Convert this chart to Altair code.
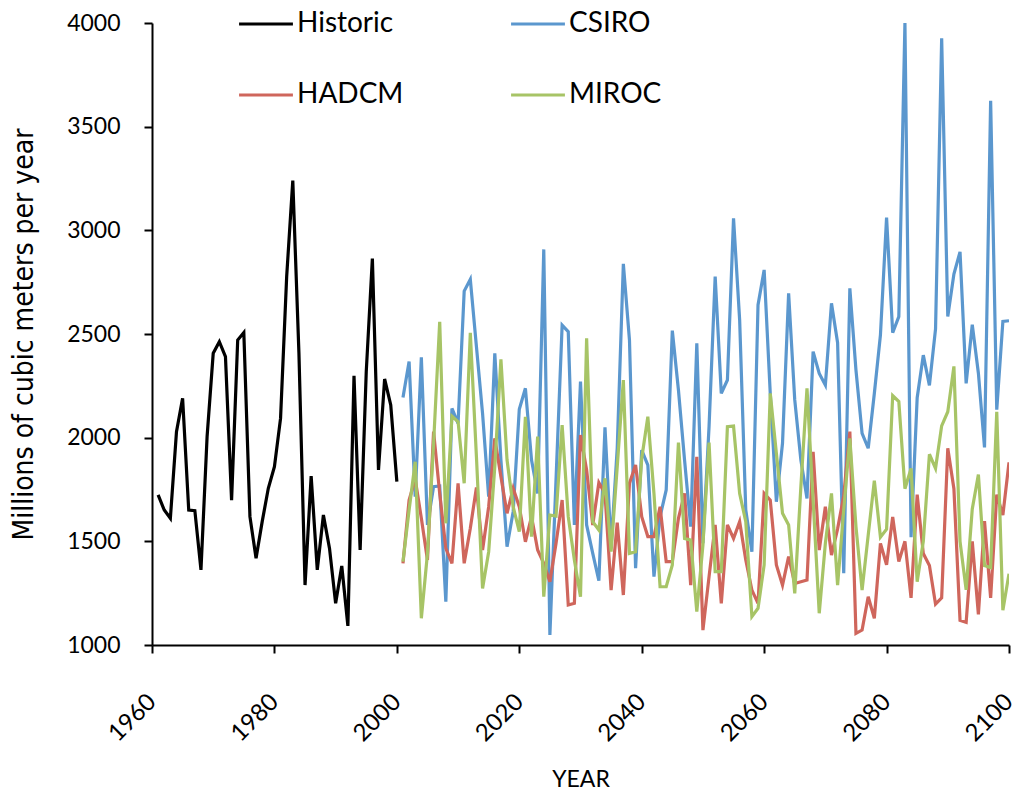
import altair as alt
import pandas as pd

# Annual volumes, millions of cubic meters per year
hist_years = list(range(1961, 2001))
historic = [1724, 1651, 1611, 2029, 2190, 1651, 1648, 1362, 2005, 2407,
            2463, 2391, 1699, 2471, 2507, 1619, 1418, 1595, 1756, 1860,
            2093, 2777, 3240, 2410, 1289, 1815, 1362, 1627, 1466, 1201,
            1381, 1092, 2298, 1458, 2318, 2864, 1844, 2283, 2158, 1788]

proj_years = list(range(2001, 2101))
csiro = [2194, 2367, 1715, 2387, 1579, 1764, 1767, 1209, 2141, 2069,
         2707, 2764, 2439, 2117, 1715, 2407, 1892, 1474, 1643, 2137,
         2238, 1892, 1731, 2908, 1048, 1796, 2543, 2511, 1579, 2270,
         1579, 1442, 1310, 2050, 1474, 1950, 2838, 2471, 1370, 1940,
         1868, 1330, 1619, 1748, 2516, 2230, 1892, 1571, 2455, 1490,
         2053, 2777, 2214, 2278, 3058, 2567, 1651, 1450, 2640, 2809,
         2214, 1691, 1973, 2696, 2182, 1892, 1707, 2415, 2310, 2254,
         2648, 2458, 1346, 2720, 2326, 2021, 1949, 2213, 2496, 3062,
         2506, 2584, 4000, 1520, 2193, 2398, 2252, 2525, 3926, 2584,
         2789, 2896, 2262, 2545, 2311, 1953, 3625, 2135, 2561, 2564]
hadcm = [1394, 1699, 1800, 1611, 1410, 2029, 1731, 1466, 1394, 1780,
         1394, 1563, 1760, 1458, 1667, 1997, 1812, 1635, 1756, 1667,
         1498, 1619, 1458, 1394, 1305, 1490, 1699, 1193, 1201, 2013,
         1844, 1579, 1783, 1731, 1265, 1590, 1241, 1780, 1868, 1619,
         1523, 1523, 1667, 1402, 1402, 1611, 1731, 1289, 1908, 1072,
         1330, 1579, 1201, 1579, 1514, 1595, 1410, 1265, 1201, 1731,
         1699, 1386, 1289, 1426, 1297, 1305, 1313, 1932, 1458, 1667,
         1434, 1560, 1720, 2029, 1056, 1072, 1233, 1129, 1490, 1387,
         1617, 1402, 1500, 1227, 1725, 1441, 1383, 1197, 1227, 1949,
         1754, 1119, 1109, 1500, 1148, 1598, 1227, 1725, 1627, 1881]
miroc = [1402, 1651, 1884, 1129, 1442, 1973, 2559, 1587, 2104, 2077,
         1780, 2506, 1908, 1273, 1450, 1860, 2378, 1892, 1667, 1547,
         2101, 1523, 2005, 1233, 1627, 1622, 2061, 1619, 1410, 1233,
         2479, 1595, 1555, 1804, 1450, 1860, 2278, 1442, 1450, 1900,
         2101, 1731, 1281, 1281, 1386, 1976, 1514, 1506, 1161, 1482,
         1976, 1354, 1354, 2053, 2056, 1731, 1595, 1137, 1177, 1386,
         2214, 1924, 1635, 1579, 1249, 1764, 2238, 1699, 1153, 1490,
         1731, 1289, 1651, 1997, 1571, 1265, 1530, 1793, 1520, 1559,
         2203, 2174, 1754, 1852, 1305, 1500, 1920, 1852, 2057, 2125,
         2344, 1500, 1266, 1656, 1822, 1383, 1373, 2125, 1168, 1344]

series_names = ["Historic", "CSIRO", "HADCM", "MIROC"]
series_colors = ["#000000", "#5B97CE", "#CF665C", "#A7C466"]

frames = [pd.DataFrame({"year": hist_years, "flow": historic, "series": "Historic"})]
for name, vals in zip(series_names[1:], [csiro, hadcm, miroc]):
    frames.append(pd.DataFrame({"year": proj_years, "flow": vals, "series": name}))
data = pd.concat(frames, ignore_index=True)

FONT = "Lato"
TITLE_FONT = "DejaVu Sans Condensed, Open Sans, sans-serif"

chart = alt.Chart(data).mark_line(strokeWidth=3.2, clip=True).encode(
    x=alt.X("year:Q",
            scale=alt.Scale(domain=[1960, 2100], nice=False, zero=False),
            axis=alt.Axis(title="YEAR", values=list(range(1960, 2101, 20)),
                          format="d", labelAngle=-45, labelAlign="right",
                          labelBaseline="middle", labelPadding=45,
                          labelFontSize=24, titlePadding=23,
                          titleFontSize=23)),
    y=alt.Y("flow:Q",
            scale=alt.Scale(domain=[1000, 4000], nice=False, zero=False),
            axis=alt.Axis(title="Millions of cubic meters per year",
                          values=list(range(1000, 4001, 500)), format="d",
                          labelPadding=24, labelFontSize=23,
                          titleFont=TITLE_FONT, titleFontSize=28,
                          titlePadding=28)),
    color=alt.Color("series:N",
                    scale=alt.Scale(domain=series_names, range=series_colors),
                    sort=series_names,
                    legend=alt.Legend(title=None, orient="none", legendX=85,
                                      legendY=-28, columns=2, direction="horizontal",
                                      symbolType="stroke", symbolSize=2900,
                                      symbolStrokeWidth=3.2, labelFontSize=28,
                                      labelFont=FONT, labelColor="#000000",
                                      columnPadding=100, rowPadding=28,
                                      labelOffset=2)),
    order=alt.Order("year:Q"),
).properties(
    width=857,
    height=622,
    autosize=alt.AutoSizeParams(type="none"),
    padding={"left": 152, "top": 23, "right": 9, "bottom": 152},
).configure_view(
    stroke=None
).configure_axis(
    domainColor="#000000", domainWidth=2, tickColor="#000000", tickWidth=2,
    tickSize=8, grid=False, labelFont=FONT, labelColor="#000000",
    titleFont=FONT, titleFontWeight="normal", titleColor="#000000",
)

chart.save("out.html", embed_options={"renderer": "svg", "actions": False})
